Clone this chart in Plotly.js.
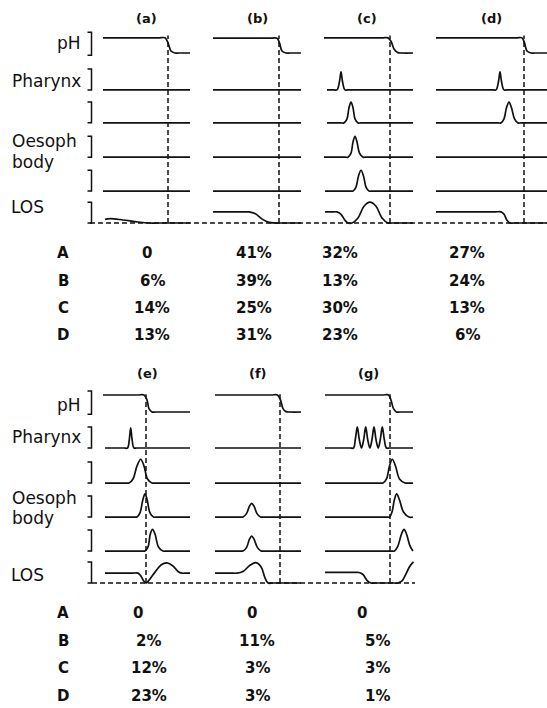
<!DOCTYPE html>
<html><head><meta charset="utf-8">
<script src="https://cdn.plot.ly/plotly-3.0.1.min.js"></script>
<style>html,body{margin:0;padding:0;background:#fff}#chart{width:547px;height:708px}</style>
</head><body><div id="chart"></div>
<script>
// ---------------- DATA (time t = local units, v = signal amplitude in row units) -------------
const channels = ['pH', 'Pharynx', 'Oesoph 1', 'Oesoph 2', 'Oesoph 3', 'LOS'];
const flat_v = [0, 0];

// Panel (a)
const a_pH_t = [0, 55, 62, 65, 68, 72, 76, 87], a_pH_v = [0.45, 0.45, 0.45, 0.3, 0.06, 0, 0, 0];
const a_flat_t = [0, 87];
const a_los_t = [2, 7, 20, 35, 47, 55, 87], a_los_v = [0.11, 0.13, 0.09, 0.03, 0, 0, 0];
const a_event = 65;

// Panel (b)
const b_pH_t = [0, 58, 64, 66.5, 69, 73, 77, 88], b_pH_v = [0.44, 0.44, 0.44, 0.3, 0.06, 0, 0, 0];
const b_flat_t = [0, 88];
const b_los_t = [0, 30, 36, 42, 50, 56, 62, 68, 88], b_los_v = [0.33, 0.33, 0.33, 0.28, 0.1, 0.02, 0, 0, 0];
const b_event = 66;

// Panel (c)
const c_pH_t = [0, 58, 64, 67, 70, 74, 78, 89], c_pH_v = [0.45, 0.45, 0.45, 0.35, 0.12, 0.01, 0, 0];
const c_phar_t = [3, 10, 13, 15.5, 17, 18.5, 21, 24, 89], c_phar_v = [0, 0, 0, 0.25, 0.54, 0.25, 0, 0, 0];
const c_b1_t = [3, 17, 20, 23, 25, 27, 29, 31, 34, 37, 89], c_b1_v = [0, 0, 0, 0.12, 0.45, 0.62, 0.45, 0.12, 0, 0, 0];
const c_b2_t = [0, 21, 24, 27, 29, 31, 33, 35.5, 39, 42, 89], c_b2_v = [0, 0, 0, 0.12, 0.45, 0.62, 0.45, 0.12, 0, 0, 0];
const c_b3_t = [1, 26, 29, 32, 34.5, 37, 39.5, 42, 45, 48, 89], c_b3_v = [0, 0, 0, 0.12, 0.45, 0.62, 0.45, 0.12, 0, 0, 0];
const c_los_t = [1, 8, 13, 17, 21, 24, 28, 34, 40, 46, 52, 58, 64, 68, 89];
const c_los_v = [0.33, 0.33, 0.33, 0.26, 0.08, 0, 0, 0.15, 0.5, 0.62, 0.5, 0.15, 0, 0, 0];
const c_event = 66;

// Panel (d)
const d_pH_t = [0, 80, 86, 88.5, 91, 95, 99, 111], d_pH_v = [0.45, 0.45, 0.45, 0.3, 0.06, 0, 0, 0];
const d_flat_t = [0, 111];
const d_phar_t = [0, 57, 60, 62.5, 64, 65.5, 68, 71, 111], d_phar_v = [0, 0, 0, 0.25, 0.54, 0.25, 0, 0, 0];
const d_b1_t = [0, 62, 65, 68, 70.5, 73, 75.5, 78.5, 82, 85, 111], d_b1_v = [0, 0, 0, 0.12, 0.45, 0.62, 0.45, 0.12, 0, 0, 0];
const d_los_t = [0, 59, 65, 68, 71, 74, 78, 111], d_los_v = [0.33, 0.33, 0.33, 0.26, 0.08, 0, 0, 0];
const d_event = 88;

// Panel (e)
const e_pH_t = [0, 35, 41, 44, 46, 49, 53, 87], e_pH_v = [0.5, 0.5, 0.5, 0.35, 0.1, 0, 0, 0];
const e_phar_t = [2, 21, 24.5, 26.3, 27.7, 29.1, 31, 34, 87], e_phar_v = [0, 0, 0, 0.25, 0.59, 0.25, 0, 0, 0];
const e_b1_t = [2, 23, 26, 30, 34, 37.7, 41, 44.5, 49, 52, 87], e_b1_v = [0, 0, 0, 0.12, 0.5, 0.7, 0.5, 0.12, 0, 0, 0];
const e_b2_t = [2, 31, 34, 37, 39.8, 42, 44.2, 47, 50.5, 54, 87], e_b2_v = [0, 0, 0, 0.12, 0.5, 0.68, 0.5, 0.12, 0, 0, 0];
const e_b3_t = [2, 39, 42, 45, 47.3, 49.5, 52, 55.5, 60, 64, 87], e_b3_v = [0, 0, 0, 0.12, 0.5, 0.64, 0.5, 0.12, 0, 0, 0];
const e_los_t = [2, 29, 35, 38, 41, 43, 46, 52, 58, 64, 70, 75, 79, 83, 87];
const e_los_v = [0.29, 0.29, 0.29, 0.2, 0.05, 0, 0.08, 0.32, 0.53, 0.59, 0.5, 0.34, 0.29, 0.29, 0.29];
const e_event = 43;

// Panel (f)
const f_pH_t = [0, 56, 62.5, 65.5, 68, 71, 75, 86], f_pH_v = [0.5, 0.5, 0.5, 0.35, 0.1, 0.01, 0, 0];
const f_flat_t = [0, 86];
const f_b2_t = [0, 25, 28, 31.5, 34.5, 36.7, 39, 42, 45.5, 49, 86], f_b2_v = [0, 0, 0, 0.1, 0.32, 0.4, 0.32, 0.1, 0, 0, 0];
const f_b3_t = [0, 25, 28, 31.5, 34.5, 36.7, 39, 42.5, 46, 49, 86], f_b3_v = [0, 0, 0, 0.1, 0.35, 0.44, 0.35, 0.1, 0, 0, 0];
const f_los_t = [0, 16, 22, 28, 35, 41, 46, 50, 53, 58, 86], f_los_v = [0.29, 0.29, 0.29, 0.34, 0.52, 0.6, 0.48, 0.15, 0, 0, 0];
const f_event = 65;

// Panel (g)
const g_pH_t = [0, 57, 63.5, 66, 68.5, 71.5, 75, 88], g_pH_v = [0.5, 0.5, 0.5, 0.35, 0.1, 0, 0, 0];
const g_phar_t = [0, 25, 28.5, 30.3, 32.3, 34.3, 36.5, 38.7, 40.7, 42.7, 44.9, 47, 49, 51, 53.2, 55.3, 57.3, 59.3, 61.5, 65, 88];
const g_phar_v = [0, 0, 0, 0.25, 0.62, 0.25, 0, 0.25, 0.62, 0.25, 0, 0.25, 0.62, 0.25, 0, 0.25, 0.62, 0.25, 0, 0, 0];
const g_b1_t = [0, 55, 58, 61.5, 64.5, 67.3, 70.5, 74.5, 80, 84, 88], g_b1_v = [0, 0, 0, 0.12, 0.5, 0.7, 0.5, 0.12, 0, 0, 0];
const g_b2_t = [0, 61, 64.5, 67, 69.5, 71.7, 74.5, 78.5, 84, 88], g_b2_v = [0, 0, 0, 0.15, 0.52, 0.68, 0.5, 0.15, 0, 0];
const g_b3_t = [0, 66, 69.5, 72.5, 76.5, 79, 81.5, 85, 88], g_b3_v = [0, 0, 0, 0.12, 0.5, 0.64, 0.5, 0.15, 0];
const g_los_t = [0, 28, 34, 38, 42, 46, 50, 69, 73, 77, 81, 85, 88.5];
const g_los_v = [0.31, 0.31, 0.31, 0.25, 0.08, 0, 0, 0, 0, 0.06, 0.27, 0.5, 0.62];
const g_event = 65;

// Table values
const tableRows = ['A', 'B', 'C', 'D'];
const top_A = ['0', '41%', '32%', '27%'];
const top_B = ['6%', '39%', '13%', '24%'];
const top_C = ['14%', '25%', '30%', '13%'];
const top_D = ['13%', '31%', '23%', '6%'];
const bot_A = ['0', '0', '0'];
const bot_B = ['2%', '11%', '5%'];
const bot_C = ['12%', '3%', '3%'];
const bot_D = ['23%', '3%', '1%'];
const topTitles = ['(a)', '(b)', '(c)', '(d)'];
const botTitles = ['(e)', '(f)', '(g)'];

// ---------------- LAYOUT GEOMETRY ----------------
const W = 547, H = 708;
const INK = '#111';
const LW = 1.7;
const DASH = '5px,3px';
const groups = [
  { base: 223, scale: 33.6, offs: [5.06, 3.96, 2.98, 1.96, 0.95, 0], yaxis: 'y', yref: 'y', hx: [90, 547] },
  { base: 583, scale: 34.0, offs: [5.03, 3.97, 2.94, 1.94, 0.94, 0], yaxis: 'y2', yref: 'y2', hx: [92, 415] }
];
const yR = [-0.5, 6.0];
function dom(g) {
  const bp = g.base - yR[0] * g.scale, tp = g.base - yR[1] * g.scale;
  return [1 - bp / H, 1 - tp / H];
}

const panels = [
  { g: 0, x0: 103, ev: a_event, ch: [[a_pH_t, a_pH_v], [a_flat_t, flat_v], [a_flat_t, flat_v], [a_flat_t, flat_v], [a_flat_t, flat_v], [a_los_t, a_los_v]] },
  { g: 0, x0: 213, ev: b_event, ch: [[b_pH_t, b_pH_v], [b_flat_t, flat_v], [b_flat_t, flat_v], [b_flat_t, flat_v], [b_flat_t, flat_v], [b_los_t, b_los_v]] },
  { g: 0, x0: 324, ev: c_event, ch: [[c_pH_t, c_pH_v], [c_phar_t, c_phar_v], [c_b1_t, c_b1_v], [c_b2_t, c_b2_v], [c_b3_t, c_b3_v], [c_los_t, c_los_v]] },
  { g: 0, x0: 436, ev: d_event, ch: [[d_pH_t, d_pH_v], [d_phar_t, d_phar_v], [d_b1_t, d_b1_v], [d_flat_t, flat_v], [d_flat_t, flat_v], [d_los_t, d_los_v]] },
  { g: 1, x0: 103, ev: e_event, ch: [[e_pH_t, e_pH_v], [e_phar_t, e_phar_v], [e_b1_t, e_b1_v], [e_b2_t, e_b2_v], [e_b3_t, e_b3_v], [e_los_t, e_los_v]] },
  { g: 1, x0: 215, ev: f_event, ch: [[f_pH_t, f_pH_v], [f_flat_t, flat_v], [f_flat_t, flat_v], [f_b2_t, f_b2_v], [f_b3_t, f_b3_v], [f_los_t, f_los_v]] },
  { g: 1, x0: 325, ev: g_event, ch: [[g_pH_t, g_pH_v], [g_phar_t, g_phar_v], [g_b1_t, g_b1_v], [g_b2_t, g_b2_v], [g_b3_t, g_b3_v], [g_los_t, g_los_v]] }
];

const traces = [];
const shapes = [];
panels.forEach(p => {
  const G = groups[p.g];
  p.ch.forEach((c, i) => {
    traces.push({
      x: c[0].map(t => p.x0 + t), y: c[1].map(v => G.offs[i] + v),
      mode: 'lines', name: channels[i], hoverinfo: 'skip',
      line: { shape: 'spline', smoothing: 1, color: INK, width: LW },
      xaxis: 'x', yaxis: G.yaxis
    });
  });
  traces.push({
    x: [p.x0 + p.ev, p.x0 + p.ev], y: [0, G.offs[0] + 0.52],
    mode: 'lines', hoverinfo: 'skip',
    line: { color: INK, width: 1.5, dash: DASH }, xaxis: 'x', yaxis: G.yaxis
  });
});

groups.forEach(G => {
  shapes.push({ type: 'line', xref: 'x', yref: G.yref, x0: G.hx[0], x1: G.hx[1], y0: 0, y1: 0,
    line: { color: INK, width: 1.5, dash: DASH } });
  G.offs.forEach((o, i) => {
    const b = i === 0 ? o - 0.07 : o, t = o + 0.62;
    shapes.push({ type: 'path', xref: 'x', yref: G.yref,
      path: `M87.5,${b} L91.5,${b} L91.5,${t} L87.5,${t}`,
      line: { color: INK, width: 1.5 } });
  });
});

const annotations = [];
function ann(text, xp, yp, xa, size, bold) {
  annotations.push({ text: bold ? '<b>' + text + '</b>' : text, x: xp / W, y: 1 - yp / H, xref: 'paper', yref: 'paper',
    xanchor: xa, yanchor: 'middle', showarrow: false,
    font: { family: 'DejaVu Sans, sans-serif', size: size, color: INK } });
}
const labelY = [[43, 81, 141, 162, 207], [405, 437, 498, 518, 575]];
labelY.forEach(ly => {
  ann('pH', 83, ly[0], 'right', 17);
  ann('Pharynx', 83, ly[1], 'right', 17);
  ann('Oesoph', 10, ly[2], 'left', 17);
  ann('body', 10, ly[3], 'left', 17);
  ann('LOS', 9, ly[4], 'left', 17);
});
const topTitleX = [146, 257, 367, 492], botTitleX = [147, 258, 368];
topTitles.forEach((t, i) => ann(t, topTitleX[i], 18, 'center', 13, true));
botTitles.forEach((t, i) => ann(t, botTitleX[i], 373, 'center', 13, true));

const topRowsY = [253, 281, 308, 335], botRowsY = [613, 641, 668, 696];
const topColX = [152, 254, 340, 467], botColX = [149, 257, 377];
const topZeroX = [147, 253, 338, 467], botZeroX = [138, 252, 362];
const topVals = [top_A, top_B, top_C, top_D], botVals = [bot_A, bot_B, bot_C, bot_D];
tableRows.forEach((r, ri) => {
  ann(r, 63, topRowsY[ri], 'center', 15, true);
  ann(r, 63, botRowsY[ri], 'center', 15, true);
  topVals[ri].forEach((v, ci) => ann(v, v === '0' ? topZeroX[ci] : topColX[ci], topRowsY[ri], 'center', 15, true));
  botVals[ri].forEach((v, ci) => ann(v, v === '0' ? botZeroX[ci] : botColX[ci], botRowsY[ri], 'center', 15, true));
});

const layout = {
  width: W, height: H, margin: { l: 0, r: 0, t: 0, b: 0 },
  paper_bgcolor: '#fff', plot_bgcolor: 'rgba(0,0,0,0)', showlegend: false,
  xaxis: { range: [0, W], domain: [0, 1], visible: false, fixedrange: true },
  yaxis: { range: yR, domain: dom(groups[0]), visible: false, fixedrange: true },
  yaxis2: { range: yR, domain: dom(groups[1]), visible: false, fixedrange: true, anchor: 'x' },
  shapes: shapes, annotations: annotations
};
Plotly.newPlot('chart', traces, layout, { displayModeBar: false, staticPlot: true });
</script></body></html>
